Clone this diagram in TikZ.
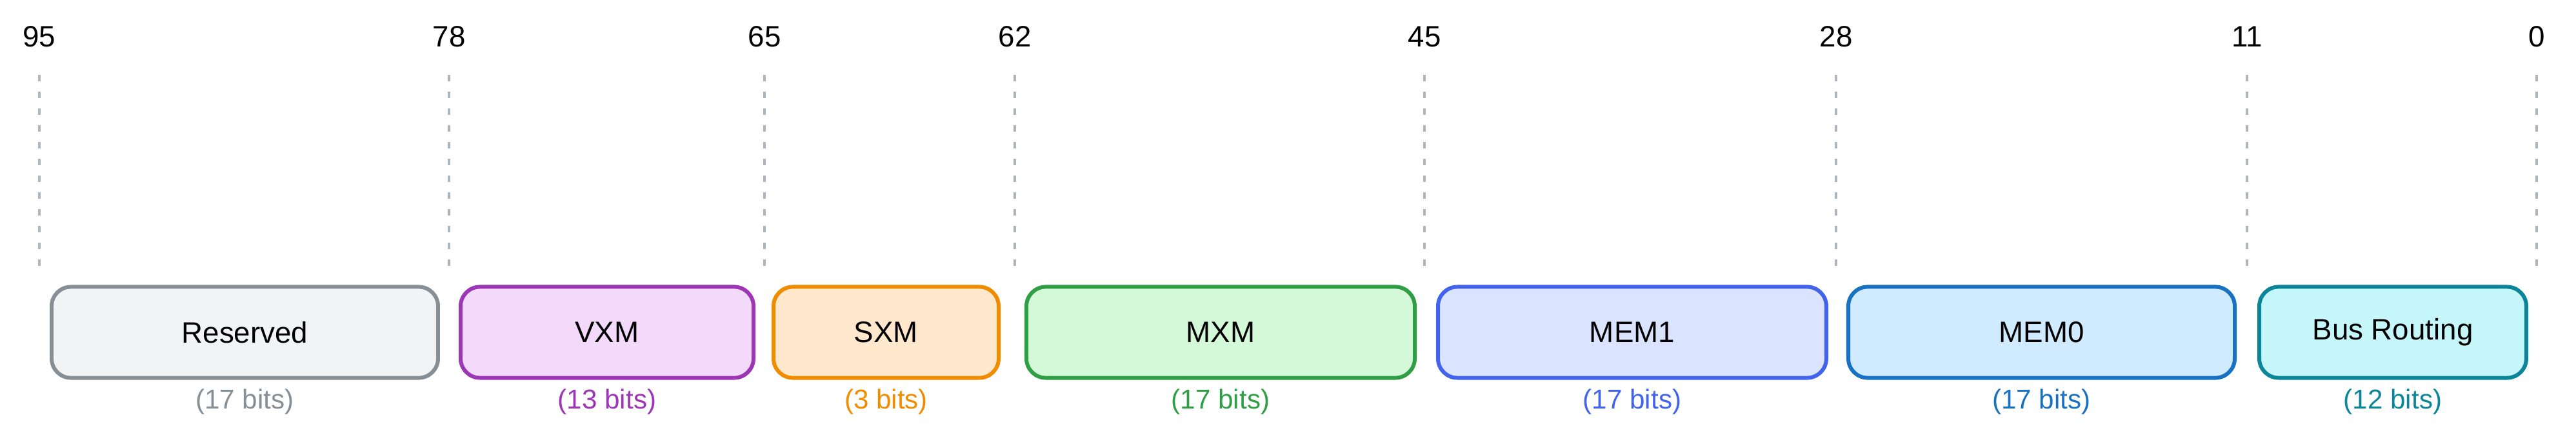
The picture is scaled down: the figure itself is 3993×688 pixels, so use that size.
\documentclass[tikz,border=0pt]{standalone}
\usepackage{fontspec}
\setmainfont{Liberation Sans}
\definecolor{c1}{HTML}{868E96}\definecolor{f1}{HTML}{F1F3F5}
\definecolor{c2}{HTML}{9C36B5}\definecolor{f2}{HTML}{F3D9FA}
\definecolor{c3}{HTML}{F08C00}\definecolor{f3}{HTML}{FFE8CC}
\definecolor{c4}{HTML}{2F9E44}\definecolor{f4}{HTML}{D3F9D8}
\definecolor{c5}{HTML}{4263EB}\definecolor{f5}{HTML}{DBE4FF}
\definecolor{c6}{HTML}{1971C2}\definecolor{f6}{HTML}{D0EBFF}
\definecolor{c7}{HTML}{0C8599}\definecolor{f7}{HTML}{C5F6FA}
\definecolor{dash}{HTML}{ADB5BD}
\begin{document}
\begin{tikzpicture}[x=0.01cm,y=-0.01cm,
  fld/.style={draw=c#1,fill=f#1,line width=1.7pt,rounded corners=0.3cm,minimum height=1.41cm,inner sep=0pt,font=\fontsize{13}{15}\selectfont},
  num/.style={font=\fontsize{13}{15}\selectfont},
  bits/.style={font=\fontsize{12}{14}\selectfont},
  tick/.style={draw=dash,line width=1.2pt,dash pattern=on 0.1cm off 0.16cm}]
\useasboundingbox (0,0) rectangle (3993,688);
\foreach \n/\x in {95/61,78/696,65/1185,62/1573,45/2208,28/2846,11/3483,0/3932}{
  \node[num] (n\n) at (\x,57) {\n};
  \coordinate (t\n) at (\x,116);
  \coordinate (b\n) at (\x,428);
  \draw[tick] (t\n) -- (b\n);
}
\foreach \nm/\a/\b/\col/\t/\bt in {res/80/679/1/Reserved/17, vxm/714/1168/2/VXM/13, sxm/1199/1548/3/SXM/3, mxm/1591/2193/4/MXM/17, mem1/2229/2831/5/MEM1/17, mem0/2865/3464/6/MEM0/17, bus/3502/3916/7/Bus Routing/12}{
  \node[fld=\col,minimum width={(\b-\a)*0.01cm}] (\nm) at ({(\a+\b)/2},515) {\t};
  \node[bits,text=c\col] (\nm b) at ({(\a+\b)/2},623) {(\bt\ bits)};
}
\end{tikzpicture}
\end{document}
